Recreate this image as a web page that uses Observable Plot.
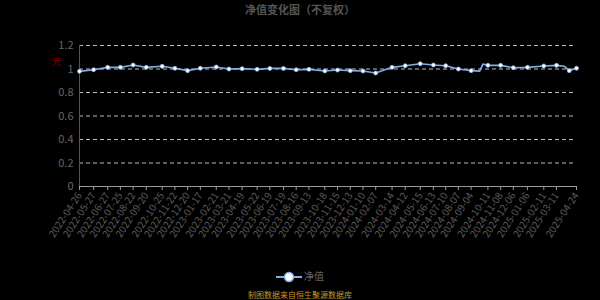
<!DOCTYPE html>
<html><head><meta charset="utf-8">
<script src="https://cdn.jsdelivr.net/npm/d3@7"></script>
<script src="https://cdn.jsdelivr.net/npm/@observablehq/plot@0.6"></script>
<style>
body{margin:0;background:#000;}
#wrap{position:relative;width:600px;height:300px;background:#000;overflow:hidden;font-family:"Noto Sans CJK SC","Noto Sans",sans-serif;}
#title{position:absolute;top:0;left:0;width:600px;text-align:center;font-size:11px;font-weight:bold;color:#555;line-height:18px;}
#unit{position:absolute;left:52px;top:55px;font-size:9px;color:#8b0000;}
#chart{position:absolute;left:0;top:0;}
#legend{position:absolute;top:268px;left:0;width:600px;text-align:center;font-size:10px;color:#666;line-height:16px;}
#legend svg{vertical-align:middle;}
#caption{position:absolute;top:288px;left:0;width:600px;text-align:center;font-size:8px;color:#c8962a;line-height:14px;}
</style></head>
<body>
<div id="wrap">
  <div id="chart"></div>
  <div id="title">净值变化图（不复权）</div>
  <div id="unit">元</div>
  <div id="legend"><svg width="26" height="14"><line x1="0" x2="26" y1="7" y2="7" stroke="#82aee6" stroke-width="2"/><circle cx="13" cy="7" r="4.5" fill="#fff" stroke="#82aee6" stroke-width="1.5"/></svg> 净值</div>
  <div id="caption">制图数据来自恒生聚源数据库</div>
</div>
<script>
const tickDates = ["2022-04-26","2022-05-27","2022-06-27","2022-07-25","2022-08-22","2022-09-20","2022-10-25","2022-11-22","2022-12-20","2023-01-17","2023-02-21","2023-03-21","2023-04-19","2023-05-22","2023-06-19","2023-07-19","2023-08-16","2023-09-13","2023-10-18","2023-11-15","2023-12-13","2024-01-10","2024-02-07","2024-03-14","2024-04-12","2024-05-15","2024-06-13","2024-07-10","2024-08-07","2024-09-04","2024-10-11","2024-11-08","2024-12-06","2025-01-06","2025-02-11","2025-03-11","2025-04-24"];

const dates = ["2022-04-26","2022-05-27","2022-06-27","2022-07-25","2022-08-22","2022-09-20","2022-10-25","2022-11-22","2022-12-20","2023-01-17","2023-02-21","2023-03-21","2023-04-19","2023-05-22","2023-06-19","2023-07-19","2023-08-16","2023-09-13","2023-10-18","2023-11-15","2023-12-13","2024-01-10","2024-02-07","2024-03-14","2024-04-12","2024-05-15","2024-06-13","2024-07-10","2024-08-07","2024-09-04","2024-09-23","2024-09-30","2024-10-11","2024-11-08","2024-12-06","2025-01-06","2025-02-11","2025-03-11","2025-03-28","2025-04-08","2025-04-24"];
const values = [0.980,0.994,1.014,1.014,1.034,1.014,1.023,1.006,0.986,1.006,1.017,1.000,1.003,0.997,1.005,1.005,0.994,0.997,0.983,0.991,0.986,0.983,0.966,1.014,1.028,1.045,1.034,1.028,1.000,0.986,0.982,1.042,1.031,1.031,1.011,1.014,1.026,1.031,1.024,0.986,1.006];
const markerDates = tickDates.concat(["2025-04-08"]);
const yTicks = [0,0.2,0.4,0.6,0.8,1,1.2];

const parse = d3.utcParse("%Y-%m-%d");
const data = dates.map((d,i)=>({date:parse(d), value:values[i]}));
const markSet = new Set(markerDates);
const dots = data.filter((r,i)=>markSet.has(dates[i]));
const xDomain = [parse(tickDates[0]), parse(tickDates[tickDates.length-1])];

const chart = Plot.plot({
  width:600, height:260,
  marginLeft:79, marginRight:24, marginTop:45, marginBottom:74,
  style:{background:"transparent", color:"#666", fontSize:"11px", fontFamily:"'Noto Sans CJK SC','Noto Sans',sans-serif"},
  x:{type:"utc", domain:xDomain, label:null},
  y:{domain:[0,1.2], label:null},
  marks:[
    Plot.gridY(yTicks.filter(v=>v>0), {stroke:"#ddd", strokeOpacity:0.85, strokeDasharray:"4,3"}),
    Plot.ruleX([xDomain[0]], {y1:0, y2:1.2, stroke:"#555"}),
    Plot.ruleY([0], {stroke:"#999"}),
    Plot.axisY(yTicks, {label:null, tickSize:0, tickPadding:6, fill:"#666", fontSize:11, tickFormat:d=>String(d)}),
    Plot.axisX(tickDates.map(parse), {label:null, tickSize:4, stroke:"#999", tickPadding:3, tickRotate:-57, tickFormat:d3.utcFormat("%Y-%m-%d"), fill:"#5a5a5a", fontSize:10}),
    Plot.line(data, {x:"date", y:"value", stroke:"#82aee6", strokeWidth:1.6}),
    Plot.dot(dots, {x:"date", y:"value", r:2, fill:"#fff", stroke:"#82aee6", strokeWidth:0.8})
  ]
});
document.getElementById("chart").appendChild(chart);
</script>
</body></html>
